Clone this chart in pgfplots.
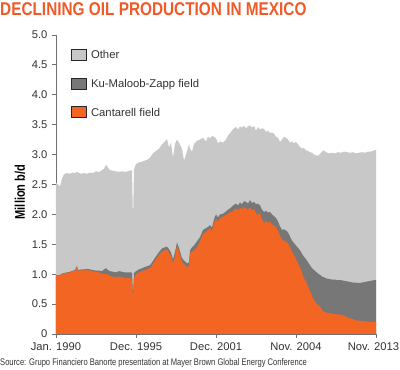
\documentclass[border=0pt]{standalone}
\usepackage{pgfplots}
\usepackage{pgfplotstable}
\pgfplotsset{compat=1.18}
\usetikzlibrary{calc}
\usepackage{fontspec}
\setmainfont{Liberation Sans}
\newfontfamily\condfont{Liberation Sans}[FakeStretch=0.79]
\newfontfamily\titlefont{Liberation Sans}[FakeStretch=0.83]
\definecolor{cantorange}{HTML}{F26522}
\definecolor{titleorange}{HTML}{F05A28}
\definecolor{kmzgray}{HTML}{777777}
\definecolor{othergray}{HTML}{C8C8C8}
\definecolor{txt}{HTML}{333333}
\definecolor{axisgray}{HTML}{707070}

% x: position along the time axis (0 = Jan. 1990, 320 = Nov. 2013)
% cant: Cantarell; dark: Cantarell + Ku-Maloob-Zapp; total: all (incl. Other)
\pgfplotstableread{
x cant dark total
0 0.98 0.99 2.53
2 0.97 0.98 2.50
4 0.98 0.99 2.47
6 1.00 1.01 2.60
8 1.01 1.02 2.67
11 1.02 1.03 2.69
14 1.03 1.04 2.68
17 1.05 1.06 2.70
19 1.06 1.07 2.69
21 1.12 1.14 2.71
22 1.05 1.07 2.70
25 1.07 1.08 2.68
28 1.06 1.08 2.69
31 1.07 1.09 2.68
34 1.06 1.08 2.70
37 1.05 1.07 2.69
40 1.04 1.06 2.72
43 1.03 1.06 2.71
46 1.01 1.05 2.74
48 1.00 1.08 2.76
50 1.01 1.10 2.83
52 0.99 1.07 2.78
54 0.97 1.05 2.74
57 0.96 1.04 2.73
60 0.95 1.03 2.72
63 0.96 1.05 2.71
66 0.95 1.04 2.72
69 0.94 1.03 2.71
72 0.94 1.03 2.72
75 0.93 1.03 2.74
76 0.93 1.02 2.73
77 0.60 0.64 1.90
78 0.93 1.02 2.75
80 1.00 1.05 2.84
83 1.03 1.08 2.87
86 1.05 1.10 2.88
89 1.07 1.12 2.90
92 1.09 1.14 2.92
94 1.10 1.15 2.95
97 1.17 1.22 3.02
100 1.25 1.30 3.06
103 1.32 1.37 3.10
106 1.38 1.43 3.17
109 1.40 1.45 3.22
111 1.41 1.46 3.26
113 1.36 1.42 3.12
115 1.30 1.36 3.20
117 1.18 1.25 2.95
119 1.30 1.37 3.18
121 1.48 1.53 3.25
123 1.38 1.44 3.20
126 1.20 1.27 3.10
128 1.17 1.23 2.90
131 1.12 1.18 3.05
133 1.14 1.20 3.17
134 1.35 1.40 3.10
136 1.38 1.45 3.05
138 1.40 1.48 3.18
141 1.45 1.55 3.23
144 1.55 1.62 3.25
147 1.68 1.74 3.28
150 1.70 1.77 3.22
152 1.74 1.79 3.30
154 1.77 1.82 3.27
156 1.72 1.78 3.31
158 1.85 1.92 3.30
160 1.93 2.00 3.27
162 1.88 1.95 3.19
164 1.94 2.00 3.22
167 1.96 2.01 3.20
170 1.99 2.05 3.25
172 2.02 2.08 3.32
174 2.04 2.10 3.36
176 2.03 2.13 3.40
178 2.08 2.16 3.44
180 2.10 2.18 3.46
182 2.07 2.15 3.42
184 2.11 2.20 3.47
186 2.09 2.17 3.45
188 2.12 2.22 3.48
190 2.10 2.21 3.44
192 2.08 2.18 3.47
194 2.12 2.24 3.49
196 2.07 2.19 3.45
198 2.09 2.21 3.48
200 2.02 2.17 3.40
202 1.99 2.18 3.46
204 2.03 2.15 3.42
206 1.92 2.08 3.44
208 1.85 2.04 3.43
210 1.90 2.06 3.38
212 1.86 2.03 3.40
214 1.88 2.04 3.36
216 1.83 2.00 3.37
218 1.82 1.97 3.35
220 1.79 1.94 3.30
222 1.73 1.88 3.28
224 1.64 1.80 3.21
226 1.58 1.74 3.25
228 1.56 1.75 3.30
230 1.55 1.73 3.28
232 1.51 1.70 3.25
234 1.45 1.63 3.20
236 1.38 1.56 3.22
238 1.32 1.52 3.19
240 1.25 1.48 3.21
242 1.18 1.44 3.17
244 1.12 1.40 3.13
246 1.03 1.34 3.10
248 0.93 1.29 3.11
250 0.88 1.25 3.07
252 0.80 1.20 3.06
254 0.72 1.15 3.04
256 0.64 1.10 3.03
258 0.57 1.07 3.00
260 0.52 1.04 2.99
262 0.48 1.01 2.98
264 0.46 0.99 3.01
266 0.40 0.96 3.05
268 0.37 0.95 3.07
270 0.36 0.93 3.04
273 0.35 0.92 3.02
276 0.34 0.91 3.03
279 0.33 0.91 3.02
282 0.33 0.90 3.04
285 0.32 0.90 3.03
288 0.31 0.89 3.05
291 0.28 0.88 3.04
294 0.26 0.87 3.03
297 0.25 0.86 3.04
300 0.23 0.86 3.02
303 0.22 0.85 3.03
306 0.22 0.86 3.04
309 0.21 0.87 3.03
312 0.21 0.88 3.05
315 0.20 0.89 3.05
318 0.20 0.90 3.07
320 0.20 0.90 3.08
}\oildata

\begin{document}
\begin{tikzpicture}
\begin{axis}[
  name=ax,
  scale only axis,
  width=320pt, height=299pt,
  xmin=0, xmax=320, ymin=0, ymax=5,
  axis lines=left,
  axis line style={axisgray, line width=0.8pt, -},
  xtick={0,80,160,240,320},
  xticklabels={Jan. 1990, Dec. 1995, Dec. 2001, Nov. 2004, \hspace*{-5pt}Nov. 2013},
  ytick={0,0.5,1,1.5,2,2.5,3,3.5,4,4.5,5},
  yticklabels={0,0.5,1.0,1.5,2.0,2.5,3.0,3.5,4.0,4.5,5.0},
  tick align=outside,
  major tick length=4pt,
  tick style={axisgray, line width=0.8pt},
  ticklabel style={font=\fontsize{11.2}{13}\selectfont, text=txt},
  xticklabel style={yshift=-1pt},
  yticklabel style={xshift=-1pt},
  ylabel={Million b/d},
  ylabel style={at={(axis description cs:-0.1125,0.475)}, anchor=center, rotate=0,
    font=\condfont\bfseries\fontsize{14}{16}\selectfont, text=black},
  legend cell align=left,
  legend style={at={(axis description cs:0.047,0.955)}, anchor=north west,
    draw=none, fill=none, inner sep=0pt, row sep=15pt,
    font=\fontsize{11.3}{13}\selectfont, text=txt,
    nodes={inner xsep=4.5pt}},
  legend image code/.code={\draw[#1, draw=black!85, line width=0.8pt] (0.5pt,-5pt) rectangle (15pt,6pt);},
]
\addplot[fill=othergray, draw=none] table[x=x, y=total]{\oildata} \closedcycle;
\addlegendentry{Other}
\addplot[fill=kmzgray, draw=none] table[x=x, y=dark]{\oildata} \closedcycle;
\addlegendentry{Ku-Maloob-Zapp field}
\addplot[fill=cantorange, draw=none] table[x=x, y=cant]{\oildata} \closedcycle;
\addlegendentry{Cantarell field}
\coordinate (SW) at (rel axis cs:0,0);
\coordinate (NE) at (rel axis cs:1,1);
\end{axis}
\coordinate (TL) at ($(SW|-NE)+(-56pt,35pt)$);
\coordinate (BR) at ($(NE|-SW)+(24pt,-36pt)$);
\node[anchor=base west, inner sep=0pt, text=titleorange,
  font=\titlefont\bfseries\fontsize{18.5}{20}\selectfont]
  at ($(TL)+(0,-15.5pt)$) {DECLINING OIL PRODUCTION IN MEXICO};
\node[anchor=base west, inner sep=0pt, text=txt,
  font=\condfont\fontsize{9.6}{11}\selectfont]
  at ($(TL|-BR)+(0,4.5pt)$) {Source: Grupo Financiero Banorte presentation at Mayer Brown Global Energy Conference};
\pgfresetboundingbox
\path[use as bounding box] (TL) rectangle (BR);
\end{tikzpicture}
\end{document}
